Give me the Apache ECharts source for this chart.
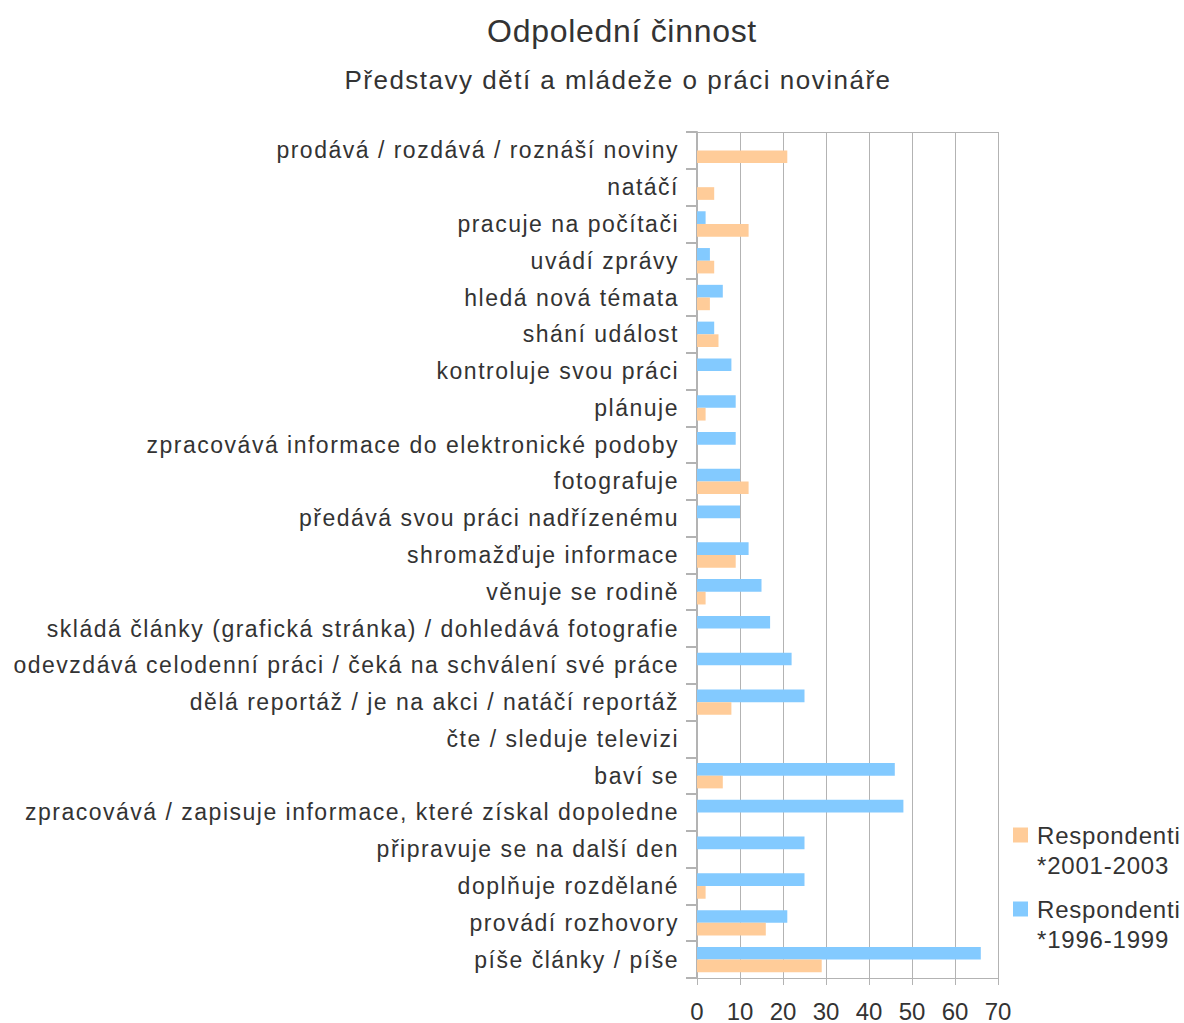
<!DOCTYPE html>
<html>
<head>
<meta charset="utf-8">
<script src="https://cdn.jsdelivr.net/npm/echarts@6/dist/echarts.min.js"></script>
<style>
html,body{margin:0;padding:0;background:#fff;}
#chart{width:1184px;height:1023px;}
</style>
</head>
<body>
<div id="chart"></div>
<script>
// categories listed bottom -> top
const categories = [
  "píše články / píše",
  "provádí rozhovory",
  "doplňuje rozdělané",
  "připravuje se na další den",
  "zpracovává / zapisuje informace, které získal dopoledne",
  "baví se",
  "čte / sleduje televizi",
  "dělá reportáž / je na akci / natáčí reportáž",
  "odevzdává celodenní práci / čeká na schválení své práce",
  "skládá články (grafická stránka) / dohledává fotografie",
  "věnuje se rodině",
  "shromažďuje informace",
  "předává svou práci nadřízenému",
  "fotografuje",
  "zpracovává informace do elektronické podoby",
  "plánuje",
  "kontroluje svou práci",
  "shání událost",
  "hledá nová témata",
  "uvádí zprávy",
  "pracuje na počítači",
  "natáčí",
  "prodává / rozdává / roznáší noviny"
];
const seriesNames = ["Respondenti\n*2001-2003", "Respondenti\n*1996-1999"];
const values2001_2003 = [29, 16, 2, 0, 0, 6, 0, 8, 0, 0, 2, 9, 0, 12, 0, 2, 0, 5, 3, 4, 12, 4, 21];
const values1996_1999 = [66, 21, 25, 25, 48, 46, 0, 25, 22, 17, 15, 12, 10, 10, 9, 9, 8, 4, 6, 3, 2, 0, 0];
const xTicks = {min: 0, max: 70, interval: 10};
const titleText = 'Odpolední činnost';
const subtitleText = 'Představy dětí a mládeže o práci novináře';

const FONT = '"Liberation Sans", Arial, sans-serif';
const GRID = '#b3b3b3';
const TEXT = '#333333';

const chart = echarts.init(document.getElementById('chart'), null, {renderer: 'svg'});
const legendCommon = {
  orient: 'vertical', left: 1013, padding: 0,
  itemWidth: 15, itemHeight: 15, icon: 'rect', selectedMode: false,
  formatter: function (name) { return '\n' + name; },
  textStyle: {fontFamily: FONT, fontSize: 24, color: TEXT, lineHeight: 30, padding: [0, 0, 0, 4]}
};
chart.setOption({
  animation: false,
  backgroundColor: '#ffffff',
  textStyle: {fontFamily: FONT},
  title: [
    {text: titleText, left: 617, top: 10, textAlign: 'center',
     textStyle: {fontFamily: FONT, fontSize: 32, fontWeight: 'normal', color: TEXT}},
    {text: subtitleText, left: 613, top: 62, textAlign: 'center',
     textStyle: {fontFamily: FONT, fontSize: 26, fontWeight: 'normal', color: TEXT}}
  ],
  legend: [
    Object.assign({}, legendCommon, {data: [seriesNames[0]], top: 790}),
    Object.assign({}, legendCommon, {data: [seriesNames[1]], top: 864})
  ],
  grid: {left: 697, right: 186, top: 132, bottom: 45, containLabel: false},
  xAxis: [
    {type: 'value', min: xTicks.min, max: xTicks.max, interval: xTicks.interval, position: 'bottom',
     axisLine: {show: true, lineStyle: {color: GRID, width: 1}},
     axisTick: {show: true, length: 7, lineStyle: {color: GRID}},
     axisLabel: {fontFamily: FONT, fontSize: 24, color: TEXT, margin: 21},
     splitLine: {show: true, lineStyle: {color: GRID, width: 1}}},
    {type: 'value', min: xTicks.min, max: xTicks.max, interval: xTicks.interval, position: 'top',
     axisLine: {show: true, lineStyle: {color: GRID, width: 1}},
     axisTick: {show: false}, axisLabel: {show: false}, splitLine: {show: false}}
  ],
  yAxis: {
    type: 'category', data: categories,
    axisLine: {show: true, lineStyle: {color: GRID, width: 2}},
    axisTick: {show: true, length: 11, lineStyle: {color: GRID, width: 2}},
    axisLabel: {fontFamily: FONT, fontSize: 23, color: TEXT, margin: 18, padding: [4, 0, 0, 0]},
    splitLine: {show: false}
  },
  series: [
    {name: seriesNames[1], type: 'bar', data: values1996_1999, xAxisIndex: 0,
     itemStyle: {color: '#83caff'}, barGap: '0%', barCategoryGap: '31%'},
    {name: seriesNames[0], type: 'bar', data: values2001_2003, xAxisIndex: 0,
     itemStyle: {color: '#ffcc99'}, barGap: '0%', barCategoryGap: '31%'}
  ]
});

// the reference renders its text with slightly wider letter spacing
const catSet = new Set(categories);
function applySpacing() {
  document.querySelectorAll('#chart svg text').forEach(function (t) {
    const s = t.textContent;
    if (catSet.has(s) || s === subtitleText) t.style.letterSpacing = '1.5px';
    else if (s === titleText) t.style.letterSpacing = '0.7px';
    else if (s.indexOf('Respondenti') === 0 || s.indexOf('*') === 0) t.style.letterSpacing = '0.8px';
  });
}
applySpacing();
chart.on('finished', applySpacing);
</script>
</body>
</html>
